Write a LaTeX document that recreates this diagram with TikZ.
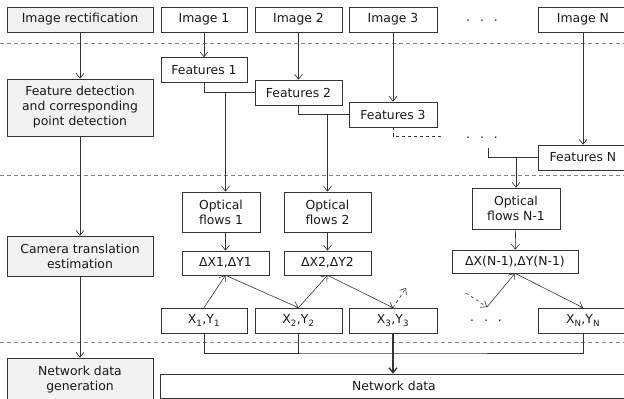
\documentclass[tikz,border=0pt]{standalone}
\usepackage{fontspec}
\setmainfont{DejaVu Sans}
\usetikzlibrary{arrows.meta}

\begin{document}
\begin{tikzpicture}[x=1pt,y=-1pt,color=black!80,line width=0.6pt,
  >={Straight Barb[length=5pt,width=8pt]},
  box/.style={draw,minimum height=25pt,inner sep=1pt,
    align=center,text=black!90,font=\fontsize{12.4}{15}\selectfont},
  stage/.style={box,fill=black!5,minimum width=146pt},
  dotsnode/.style={text=black!90,font=\fontsize{12.4}{15}\selectfont},
  sep/.style={gray,line width=0.7pt,dash pattern=on 4pt off 3pt}]

\useasboundingbox (0,0) rectangle (624,399);
\clip (0,0) rectangle (624,399);

\draw[sep] (0,43) -- (624,43);
\draw[sep] (0,175) -- (624,175);
\draw[sep] (0,342) -- (624,342);

\node[stage] (rect) at (80,19.5) {Image rectification};
\node[stage,minimum height=57pt] (feat) at (80,107.5) {Feature detection\\and corresponding\\point detection};
\node[stage,minimum height=40pt] (cam) at (80,256) {Camera translation\\estimation};
\node[stage,minimum height=44pt] (gen) at (80,380) {Network data\\generation};

\node[box,minimum width=86pt] (img1) at (204,19.5) {Image 1};
\node[box,minimum width=87pt] (img2) at (298.5,19.5) {Image 2};
\node[box,minimum width=88pt] (img3) at (393,19.5) {Image 3};
\node[dotsnode] (idots) at (482,21) {.\hspace{10pt}.\hspace{10pt}.};
\node[box,minimum width=90pt] (imgN) at (583,19.5) {Image N};

\node[box,minimum width=86pt] (f1) at (204,70) {Features 1};
\node[box,minimum width=87pt] (f2) at (298.5,92.5) {Features 2};
\node[box,minimum width=88pt] (f3) at (393,114.5) {Features 3};
\node[dotsnode] (fdots) at (482,138) {.\hspace{10pt}.\hspace{10pt}.};
\node[box,minimum width=90pt] (fN) at (583,157.5) {Features N};

\node[box,minimum width=78pt,minimum height=40pt] (of1) at (221,212) {Optical\\flows 1};
\node[box,minimum width=87pt,minimum height=40pt] (of2) at (327.5,212) {Optical\\flows 2};
\node[box,minimum width=88pt,minimum height=41pt] (ofN) at (516,208.5) {Optical\\flows N-1};

\node[box,minimum width=87pt,minimum height=24pt] (dx1) at (225.5,263) {ΔX1,ΔY1};
\node[box,minimum width=87pt,minimum height=24pt] (dx2) at (327.5,263) {ΔX2,ΔY2};
\node[box,minimum width=126pt,minimum height=23pt] (dxN) at (515,261.5) {ΔX(N-1),ΔY(N-1)};

\node[box,minimum width=86pt] (x1) at (204,320.5) {X\textsubscript{1},Y\textsubscript{1}};
\node[box,minimum width=87pt] (x2) at (298.5,320.5) {X\textsubscript{2},Y\textsubscript{2}};
\node[box,minimum width=88pt] (x3) at (393,320.5) {X\textsubscript{3},Y\textsubscript{3}};
\node[dotsnode] (xdots) at (486,321) {.\hspace{10pt}.\hspace{10pt}.};
\node[box,minimum width=90pt] (xN) at (583,320.5) {X\textsubscript{N},Y\textsubscript{N}};

\node[box,minimum width=468pt,minimum height=24pt] (net) at (394,386) {Network data};

\draw[->] (rect) -- (feat);
\draw[->] (feat) -- (cam);
\draw[->] (cam) -- (gen);

\draw[->] (img1) -- (f1);
\draw[->] (img2) -- (f2);
\draw[->] (img3) -- (f3);
\draw[->] (imgN) -- (fN);

\draw (f1.south) |- (f2.west);
\draw (f2.south) |- (f3.west);
\coordinate (f3end) at (443,136);
\draw[dashed] (f3.south) |- (f3end);
\coordinate (fNin) at (488,148);
\draw (fNin) |- (fN.west);

\draw[->] (dx1.north |- f2.west) -- (dx1.north |- of1.north);
\draw[->] (of2.north |- f3.west) -- (of2.north);
\draw[->] (ofN.north |- fN.west) -- (ofN.north);

\draw[->] (dx1.north |- of1.south) -- (dx1.north);
\draw[->] (of2) -- (dx2);
\draw[->] (ofN) -- (dxN);

\coordinate (x3out) at (406,288);
\coordinate (xNin) at (466,293);
\coordinate (xNmid) at (487,307);
\draw[->] (x1.north) -- (dx1.south);
\draw[->] (dx1.south) -- (x2.north);
\draw[->] (x2.north) -- (dx2.south);
\draw[->] (dx2.south) -- (x3.north);
\draw[->,dashed] (x3.north) -- (x3out);
\draw[->,dashed] (xNin) -- (xNmid);
\draw[->] (xNmid) -- (dxN.south);
\draw[->] (dxN.south) -- (xN.north);

\coordinate (bus) at (393,353);
\draw (x1.south) |- (bus) -| (xN.south);
\draw (x2.south) -- (x2.south |- bus);
\draw[->,line width=1.3pt] (x3.south) -- (x3.south |- net.north);
\end{tikzpicture}
\end{document}
